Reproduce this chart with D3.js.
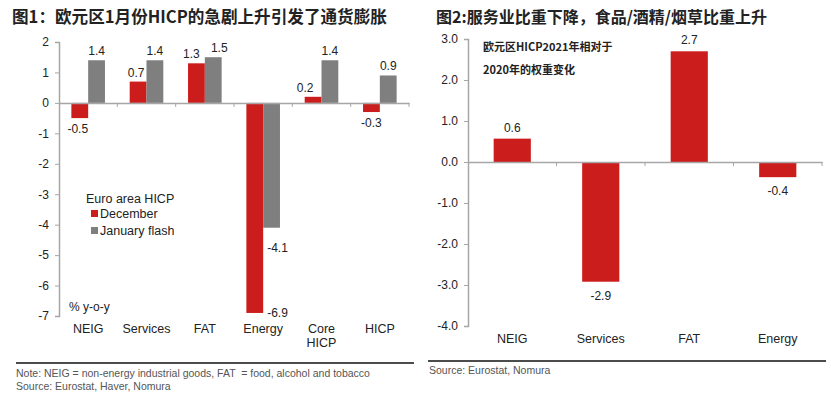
<!DOCTYPE html>
<html><head><meta charset="utf-8">
<script src="https://cdn.jsdelivr.net/npm/d3@7"></script>
<style>
body{margin:0;background:#fff;}
svg{display:block;font-family:"Liberation Sans",Arial,sans-serif;}
text{white-space:pre;}
</style></head>
<body><svg id="c" width="831" height="395"></svg>
<script>
// ---- Data: Figure 1 ----
const cats1 = ["NEIG","Services","FAT","Energy","Core HICP","HICP"];
const december = [-0.5, 0.7, 1.3, -6.9, 0.2, -0.3];
const januaryFlash = [1.4, 1.4, 1.5, -4.1, 1.4, 0.9];
const yTicks1 = [2,1,0,-1,-2,-3,-4,-5,-6,-7];
const title1 = "图1：欧元区1月份HICP的急剧上升引发了通货膨胀";
const note1 = "Note: NEIG = non-energy industrial goods, FAT  = food, alcohol and tobacco";
const source1 = "Source: Eurostat, Haver, Nomura";
// ---- Data: Figure 2 ----
const cats2 = ["NEIG","Services","FAT","Energy"];
const weightChange = [0.57, -2.92, 2.7, -0.37];
const weightLabels = ["0.6","-2.9","2.7","-0.4"];
const yTicks2 = [3,2,1,0,-1,-2,-3,-4];
const title2 = "图2:服务业比重下降，食品/酒精/烟草比重上升";
const inset2 = ["欧元区HICP2021年相对于","2020年的权重变化"];
const source2 = "Source: Eurostat, Nomura";

const RED = "#cc1d1d", GRAY = "#7f7f7f", AXIS = "#a6a6a6";
const svg = d3.select("#c");
const cjk = '"Noto Sans CJK SC","Noto Sans",sans-serif';
const loc = d3.formatLocale({decimal:".",thousands:",",grouping:[3],currency:["",""],minus:"-"});

// ---------- Figure 1 ----------
svg.append("text").attr("x",12).attr("y",23).attr("font-family",cjk)
  .attr("font-weight","bold").attr("font-size",16.6).attr("fill","#222").text(title1);

const x1 = d3.scaleBand().domain(cats1).range([59,409]);
const y1 = d3.scaleLinear().domain([-7,2]).range([316,42]);
const g1 = svg.append("g");
const barW1 = 16.8;

const ya1 = g1.append("g").attr("transform","translate(59,0)")
  .call(d3.axisLeft(y1).tickValues(yTicks1).tickSize(4).tickPadding(6).tickFormat(loc.format("d")));
ya1.select(".domain").attr("stroke",AXIS).attr("stroke-width",1.5);
ya1.selectAll(".tick line").attr("stroke",AXIS);
ya1.selectAll("text").attr("font-size",12).attr("fill","#222").attr("font-family",'"Liberation Sans",Arial,sans-serif');

cats1.forEach((c,i)=>{
  const cx = x1(c)+x1.bandwidth()/2;
  g1.append("rect").attr("x",cx-barW1).attr("width",barW1)
    .attr("y",y1(Math.max(0,december[i]))).attr("height",Math.abs(y1(december[i])-y1(0))).attr("fill",RED);
  g1.append("rect").attr("x",cx).attr("width",barW1)
    .attr("y",y1(Math.max(0,januaryFlash[i]))).attr("height",Math.abs(y1(januaryFlash[i])-y1(0))).attr("fill",GRAY);
});

const xa1 = g1.append("g").attr("transform",`translate(0,${y1(0)})`)
  .call(d3.axisBottom(x1).tickValues([]).tickSizeOuter(0));
xa1.select(".domain").attr("stroke",AXIS).attr("stroke-width",1.5);
const bounds1 = d3.range(1,cats1.length+1).map(i=>59+i*x1.step());
g1.selectAll(".xt1").data(bounds1).join("line").attr("x1",d=>d).attr("x2",d=>d)
  .attr("y1",y1(0)).attr("y2",y1(0)+4).attr("stroke",AXIS);

cats1.forEach(c=>{
  const cx = x1(c)+x1.bandwidth()/2;
  const parts = c==="Core HICP" ? ["Core","HICP"] : [c];
  parts.forEach((p,k)=>{
    g1.append("text").attr("x",cx).attr("y",333+k*14).attr("text-anchor","middle")
      .attr("font-size",12.5).attr("fill","#222").text(p);
  });
});

const fmt1 = loc.format(".1f");
cats1.forEach((c,i)=>{
  const cx = x1(c)+x1.bandwidth()/2;
  const lab = (v,bx,dx)=>{
    g1.append("text").attr("text-anchor","middle").attr("font-size",12).attr("fill","#222")
      .attr("x",bx+dx).attr("y", v>=0 ? y1(v)-5 : y1(v)+15).text(fmt1(v));
  };
  if(c==="Energy"){
    g1.append("text").attr("x",cx+4).attr("y",y1(januaryFlash[i])+24).attr("font-size",12).attr("fill","#222").text(fmt1(januaryFlash[i]));
    g1.append("text").attr("x",cx+4).attr("y",y1(december[i])+4).attr("font-size",12).attr("fill","#222").text(fmt1(december[i]));
  } else {
    let dxr = 0, dxg = 0;
    if(c==="FAT"){dxr=-5; dxg=6;}
    if(c==="Core HICP"){dxr=-8;}
    if(c==="Services"){dxr=-2;}
    if(c==="NEIG"){dxr=-2;}
    lab(december[i], cx-barW1/2, dxr);
    lab(januaryFlash[i], cx+barW1/2, dxg);
  }
});

const lg = g1.append("g");
lg.append("text").attr("x",86).attr("y",203).attr("font-size",12.5).attr("fill","#222").text("Euro area HICP");
[["December",RED],["January flash",GRAY]].forEach((d,k)=>{
  lg.append("rect").attr("x",91).attr("y",210+k*17).attr("width",7).attr("height",7).attr("fill",d[1]);
  lg.append("text").attr("x",100).attr("y",218+k*17).attr("font-size",12.5).attr("fill","#222").text(d[0]);
});
g1.append("text").attr("x",69).attr("y",311).attr("font-size",12).attr("fill","#222").text("% y-o-y");

svg.append("line").attr("x1",16).attr("x2",414).attr("y1",363).attr("y2",363).attr("stroke","#111").attr("stroke-width",1.5);
svg.append("text").attr("x",16).attr("y",377).attr("font-size",10.5).attr("fill","#555").text(note1);
svg.append("text").attr("x",16).attr("y",390).attr("font-size",10.5).attr("fill","#555").text(source1);

// ---------- Figure 2 ----------
svg.append("text").attr("x",436).attr("y",23).attr("font-family",cjk)
  .attr("font-weight","bold").attr("font-size",16).attr("fill","#222").text(title2);

const x2 = d3.scaleBand().domain(cats2).range([468,822]).paddingInner(0.58).paddingOuter(0.29);
const y2 = d3.scaleLinear().domain([-4,3]).range([326,39]);
const g2 = svg.append("g");

const ya2 = g2.append("g").attr("transform","translate(468,0)")
  .call(d3.axisLeft(y2).tickValues(yTicks2).tickSize(4).tickPadding(6).tickFormat(loc.format(".1f")));
ya2.select(".domain").attr("stroke",AXIS).attr("stroke-width",1.5);
ya2.selectAll(".tick line").attr("stroke",AXIS);
ya2.selectAll("text").attr("font-size",12).attr("fill","#222").attr("font-family",'"Liberation Sans",Arial,sans-serif');

g2.selectAll(".b2").data(cats2).join("rect")
  .attr("x",d=>x2(d)).attr("width",x2.bandwidth())
  .attr("y",(d,i)=>y2(Math.max(0,weightChange[i])))
  .attr("height",(d,i)=>Math.abs(y2(weightChange[i])-y2(0))).attr("fill",RED);

const xa2 = g2.append("g").attr("transform",`translate(0,${y2(0)})`)
  .call(d3.axisBottom(x2).tickValues([]).tickSizeOuter(0));
xa2.select(".domain").attr("stroke",AXIS).attr("stroke-width",1.5);
const step2 = (822-468)/cats2.length;
g2.selectAll(".xt2").data(d3.range(1,cats2.length+1).map(i=>468+i*step2)).join("line")
  .attr("x1",d=>d).attr("x2",d=>d).attr("y1",y2(0)).attr("y2",y2(0)+4).attr("stroke",AXIS);

cats2.forEach((c,i)=>{
  const cx = x2(c)+x2.bandwidth()/2;
  g2.append("text").attr("x",cx).attr("y",343).attr("text-anchor","middle")
    .attr("font-size",12.5).attr("fill","#222").text(c);
  const v = weightChange[i];
  g2.append("text").attr("x",cx).attr("y", v>=0 ? y2(v)-7 : y2(v)+18).attr("text-anchor","middle")
    .attr("font-size",12).attr("fill","#222").text(weightLabels[i]);
});

inset2.forEach((t,k)=>{
  g2.append("text").attr("x",483).attr("y",51+k*23).attr("font-family",cjk).attr("font-weight","bold")
    .attr("font-size",11).attr("fill","#222").text(t);
});

svg.append("line").attr("x1",428).attr("x2",826).attr("y1",361).attr("y2",361).attr("stroke","#111").attr("stroke-width",1.5);
svg.append("text").attr("x",429).attr("y",374).attr("font-size",10.5).attr("fill","#555").text(source2);
</script></body></html>
